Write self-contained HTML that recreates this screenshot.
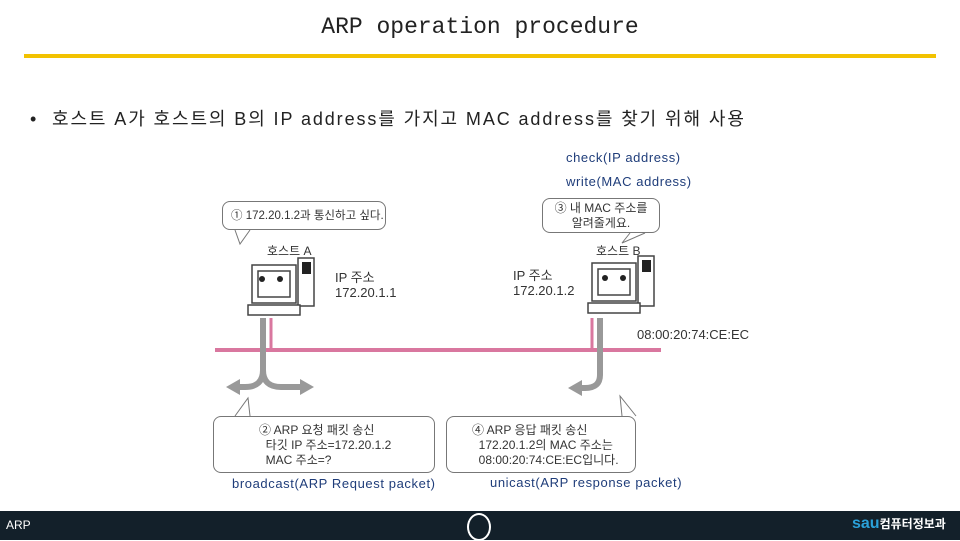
<!DOCTYPE html>
<html><head><meta charset="utf-8"><style>
body{margin:0;width:960px;height:540px;position:relative;background:#fff;overflow:hidden;font-family:"Liberation Sans","Noto Sans CJK KR",sans-serif}
.a{position:absolute;white-space:nowrap}
.bub{position:absolute;border:1px solid #777;border-radius:8px;background:#fff;font-size:12px;color:#333;line-height:15px;white-space:nowrap}
.blue{color:#1f3d7a;font-family:"Liberation Sans","Noto Sans CJK KR",sans-serif;font-size:13px;letter-spacing:0.6px}
</style></head><body>
<div class="a" style="left:0;width:960px;top:14px;text-align:center;font-family:'Liberation Mono','Noto Sans CJK KR',monospace;font-size:23px;color:#222">ARP operation procedure</div>
<div class="a" style="left:24px;top:54px;width:912px;height:4px;background:#f2c200"></div>
<div class="a" style="left:30px;top:105px;font-size:18px;letter-spacing:1.9px;color:#222">• &nbsp;호스트 A가 호스트의 B의 IP address를 가지고 MAC address를 찾기 위해 사용</div>
<div class="a blue" style="left:566px;top:150px">check(IP address)</div>
<div class="a blue" style="left:566px;top:174px">write(MAC address)</div>
<svg class="a" style="left:0;top:0" width="960" height="540">
<line x1="215" y1="350" x2="661" y2="350" stroke="#d9779f" stroke-width="4"/>
<line x1="271" y1="318" x2="271" y2="350" stroke="#d9779f" stroke-width="3"/>
<line x1="592" y1="318" x2="592" y2="350" stroke="#d9779f" stroke-width="3"/>
<g fill="none" stroke="#999" stroke-width="6">
<path d="M263 318 V370 Q263 387 245 387 H232"/>
<path d="M263 370 Q263 387 281 387 H300"/>
<path d="M600 318 V375 Q600 388 585 388 H578"/>
</g>
<g fill="#999"><polygon points="226,387 240,379 240,395"/><polygon points="314,387 300,379 300,395"/><polygon points="568,388 582,380 582,396"/></g>
<g stroke="#444" fill="#fff" stroke-width="1.5">
<rect x="252" y="265" width="44" height="38"/><rect x="258" y="271" width="32" height="26"/>
<rect x="298" y="258" width="16" height="48"/><rect x="248" y="305" width="52" height="10"/>
<rect x="592" y="263" width="44" height="38"/><rect x="598" y="269" width="32" height="26"/>
<rect x="638" y="256" width="16" height="50"/><rect x="588" y="303" width="52" height="10"/>
</g>
<g fill="#222"><circle cx="262" cy="279" r="3"/><circle cx="280" cy="279" r="3"/><circle cx="605" cy="278" r="3"/><circle cx="623" cy="278" r="3"/>
<rect x="302" y="262" width="9" height="12"/><rect x="642" y="260" width="9" height="12"/></g>
<polyline points="235,230 240,244 250,230" fill="#fff" stroke="#777"/>
<polyline points="630,233 622,243 645,233" fill="#fff" stroke="#777"/>
<polyline points="235,416 248,398 250,416" fill="#fff" stroke="#777"/>
<polyline points="622,416 620,396 636,416" fill="#fff" stroke="#777"/>
</svg>
<div class="bub" style="left:222px;top:201px;width:164px;height:29px;line-height:29px;padding-left:8px;box-sizing:border-box;font-size:11.5px">① 172.20.1.2과 통신하고 싶다.</div>
<div class="bub" style="left:542px;top:198px;width:118px;height:35px;text-align:center;font-size:12px;line-height:15px;padding-top:2px;box-sizing:border-box">③ 내 MAC 주소를<br>알려줄게요.</div>
<div class="a" style="left:267px;top:242px;font-size:12px;color:#333">호스트 A</div>
<div class="a" style="left:596px;top:242px;font-size:12px;color:#333">호스트 B</div>
<div class="a" style="left:335px;top:270px;font-size:13px;color:#333;line-height:15px">IP 주소<br>172.20.1.1</div>
<div class="a" style="left:513px;top:268px;font-size:13px;color:#333;line-height:15px">IP 주소<br>172.20.1.2</div>
<div class="a" style="left:637px;top:327px;font-size:13px;color:#333">08:00:20:74:CE:EC</div>
<div class="bub" style="left:213px;top:416px;width:222px;height:57px;padding:6px 0 0 45px;box-sizing:border-box">② ARP 요청 패킷 송신<br>&nbsp;&nbsp;타깃 IP 주소=172.20.1.2<br>&nbsp;&nbsp;MAC 주소=?</div>
<div class="bub" style="left:446px;top:416px;width:190px;height:57px;padding:6px 0 0 25px;box-sizing:border-box">④ ARP 응답 패킷 송신<br>&nbsp;&nbsp;172.20.1.2의 MAC 주소는<br>&nbsp;&nbsp;08:00:20:74:CE:EC입니다.</div>
<div class="a blue" style="left:232px;top:476px">broadcast(ARP Request packet)</div>
<div class="a blue" style="left:490px;top:475px">unicast(ARP response packet)</div>
<div class="a" style="left:0;top:511px;width:960px;height:29px;background:#13202a"></div>
<div class="a" style="left:6px;top:518px;font-size:12px;color:#fff">ARP</div>
<div class="a" style="left:467px;top:513px;width:24px;height:28px;border:2px solid #fff;border-radius:50%;box-sizing:border-box"></div>
<div class="a" style="left:852px;top:515px;font-size:16px;font-weight:bold;color:#2aa0d8">sau<span style="color:#fff;font-size:12px">컴퓨터정보과</span></div>
</body></html>
